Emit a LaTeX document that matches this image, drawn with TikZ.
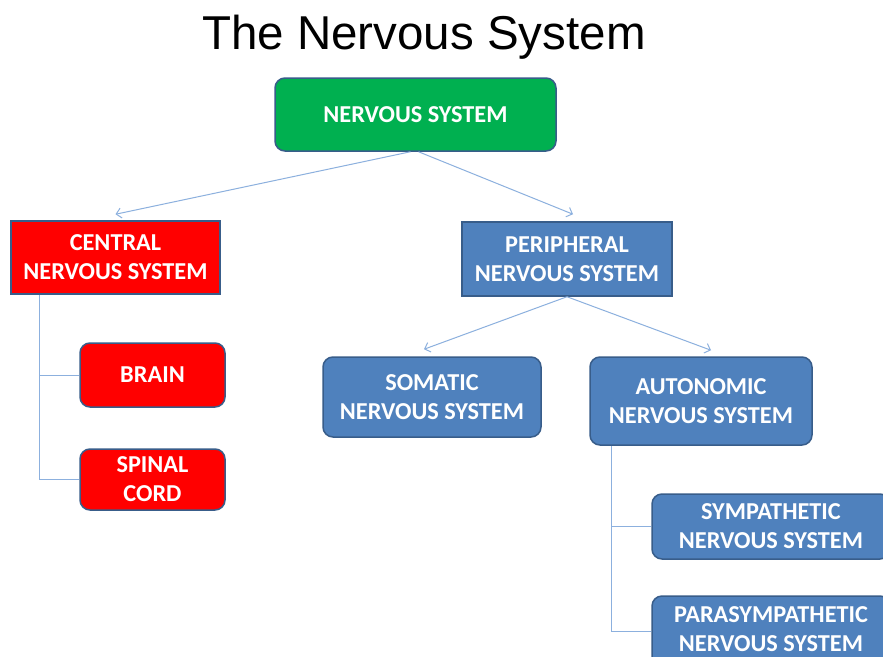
\documentclass[tikz,border=0pt]{standalone}
\usepackage{fontspec}
\setmainfont{Liberation Sans}
\newfontfamily\boxfont{Carlito}
\usetikzlibrary{arrows.meta}
\definecolor{nsgreen}{RGB}{0,176,80}
\definecolor{nsred}{RGB}{255,0,0}
\definecolor{nsblue}{RGB}{79,129,189}
\definecolor{nsborder}{RGB}{56,93,138}
\definecolor{nsline}{RGB}{140,176,222}
\tikzset{
  box/.style={draw=nsborder, line width=1.5pt, text=white, align=center,
    font=\boxfont\bfseries\fontsize{24.3}{29}\selectfont, inner sep=0pt},
  rbox/.style={box, rounded corners=10pt},
  link/.style={draw=nsline, line width=1pt},
  arr/.style={link, -{Straight Barb[length=5pt,width=10pt]}}
}
\begin{document}
\begin{tikzpicture}[x=1pt,y=-1pt]
\useasboundingbox (0,0) rectangle (883,656);
\clip (0,0) rectangle (883,656);
\fill[white] (0,0) rectangle (883,656);
\node[font=\fontsize{47.5}{52}\selectfont] (title) at (424,37) {The Nervous System};
\node[rbox, fill=nsgreen, minimum width=281pt, minimum height=73pt] (ns) at (415.5,114.5) {NERVOUS SYSTEM};
\node[box, fill=nsred, minimum width=209pt, minimum height=73pt] (cns) at (115.5,257.5) {CENTRAL\\NERVOUS SYSTEM};
\node[box, fill=nsblue, minimum width=210pt, minimum height=74pt] (pns) at (567,259) {PERIPHERAL\\NERVOUS SYSTEM};
\node[rbox, fill=nsred, minimum width=145pt, minimum height=64pt] (brain) at (152.5,375) {BRAIN};
\node[rbox, fill=nsred, minimum width=145pt, minimum height=61pt] (cord) at (152.5,479.5) {SPINAL\\CORD};
\node[rbox, fill=nsblue, minimum width=218pt, minimum height=80pt] (som) at (432,397) {SOMATIC\\NERVOUS SYSTEM};
\node[rbox, fill=nsblue, minimum width=222pt, minimum height=88pt] (auto) at (701,401) {AUTONOMIC\\NERVOUS SYSTEM};
\node[rbox, fill=nsblue, minimum width=238pt, minimum height=65pt] (sym) at (771,526.5) {SYMPATHETIC\\NERVOUS SYSTEM};
\node[rbox, fill=nsblue, minimum width=238pt, minimum height=70pt, text depth=3pt] (para) at (771,631) {PARASYMPATHETIC\\NERVOUS SYSTEM};
% arrows
\coordinate (nsL) at ([xshift=-5pt]ns.south);
\coordinate (nsR) at ([xshift=3pt]ns.south);
\draw[arr] (nsL) -- ([yshift=6pt]cns.north);
\draw[arr] (nsR) -- ([xshift=6pt,yshift=7pt]pns.north);
\draw[arr] (pns.south) -- ([xshift=-8pt,yshift=7pt]som.north);
\draw[arr] (pns.south) -- ([xshift=10pt,yshift=6pt]auto.north);
% trees
\coordinate (ct) at ([xshift=-76pt]cns.south);
\draw[link] (ct) |- (cord.west);
\draw[link] (ct |- brain.west) -- (brain.west);
\coordinate (at) at ([xshift=-90pt]auto.south);
\draw[link] (at) |- (para.west);
\draw[link] (at |- sym.west) -- (sym.west);
\end{tikzpicture}
\end{document}
